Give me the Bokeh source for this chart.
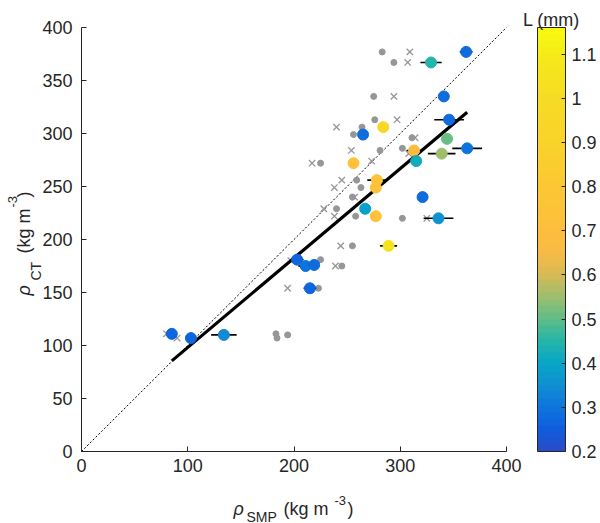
import numpy as np
from bokeh.plotting import figure
from bokeh.models import (ColumnDataSource, LinearColorMapper, ColorBar,
                          FixedTicker, Label, Range1d)
from bokeh.transform import transform
from bokeh.embed import file_html
from bokeh.resources import INLINE

# ---------------- data ----------------
rho_smp = [362, 329, 341, 346, 344, 363, 339, 313, 315, 284, 265, 256, 278,
           277, 321, 267, 277, 336, 289, 203, 211, 219, 215, 85, 103, 134]
rho_ct = [377, 367, 335, 313, 295, 286, 281, 284, 274, 306, 299, 272, 256,
          249, 240, 229, 222, 220, 194, 181, 175, 176, 154, 111, 107, 110]
rho_smp_err = [6, 10, 0, 14, 5, 14, 13, 7, 3, 4, 0, 0, 9,
               0, 0, 4, 0, 14, 8, 6, 7, 0, 6, 0, 0, 12]
grain_L = [0.28, 0.45, 0.28, 0.29, 0.50, 0.30, 0.55, 0.68, 0.42, 0.95, 0.28,
           0.75, 0.75, 0.75, 0.28, 0.38, 0.75, 0.36, 1.05, 0.26, 0.30, 0.29,
           0.26, 0.27, 0.27, 0.34]

alt_dot_smp = [283, 294, 275, 276, 264, 256, 311, 302, 281, 225, 259, 263,
               255, 240, 258, 302, 255, 225, 245, 223, 183, 184, 194]
alt_dot_ct = [377, 367, 335, 313, 306, 299, 296, 286, 284, 272, 256, 249,
              240, 229, 222, 220, 194, 181, 175, 154, 111, 107, 110]

alt_x_smp = [309, 307, 294, 297, 240, 314, 308, 254, 273, 217, 245, 238,
             257, 228, 238, 325, 244, 197, 239, 194, 80, 90]
alt_x_ct = [377, 367, 335, 313, 306, 296, 281, 284, 274, 272, 256, 249,
            240, 229, 222, 220, 194, 180, 175, 154, 111, 107]

fit_slope = 0.8435
fit_intercept = 13.8

x_ticks = [0, 100, 200, 300, 400]
y_ticks = [0, 50, 100, 150, 200, 250, 300, 350, 400]
axis_limits = [0, 400]
L_low, L_high = 0.2, 1.16
cbar_ticks = [0.2, 0.3, 0.4, 0.5, 0.6, 0.7, 0.8, 0.9, 1.0, 1.1]
cbar_labels = ["0.2", "0.3", "0.4", "0.5", "0.6", "0.7", "0.8", "0.9", "1", "1.1"]

cmap_L = [0.2, 0.25, 0.3, 0.35, 0.4, 0.45, 0.5, 0.55, 0.6, 0.65, 0.7, 0.8,
          0.9, 1.0, 1.1, 1.16]
cmap_rgb = [(44, 74, 199), (15, 92, 221), (13, 117, 220), (16, 142, 210),
            (7, 166, 199), (37, 181, 169), (95, 189, 135), (155, 190, 110),
            (215, 186, 86), (247, 187, 68), (253, 190, 61), (252, 199, 51),
            (249, 211, 42), (246, 219, 36), (245, 235, 24), (249, 251, 14)]

# ---------------- palette ----------------
n_col = 64
steps = L_low + (np.arange(n_col) + 0.5) * (L_high - L_low) / n_col
rgb = np.array(cmap_rgb, dtype=float)
palette = []
for s in steps:
    r = np.interp(s, cmap_L, rgb[:, 0])
    g = np.interp(s, cmap_L, rgb[:, 1])
    b = np.interp(s, cmap_L, rgb[:, 2])
    palette.append("#%02x%02x%02x" % (int(round(r)), int(round(g)), int(round(b))))
mapper = LinearColorMapper(palette=palette, low=L_low, high=L_high)

# ---------------- layout constants (canvas pixels) ----------------
FONT = "Liberation Sans"
AX = "#262626"
W, H = 600, 523
AREA_L, AREA_T, AREA_W, AREA_H = 81, 27, 425, 424   # where 0..400 x 0..400 sits
AREA_B = AREA_T + AREA_H
span = axis_limits[1] - axis_limits[0]


def dx(px_):
    return axis_limits[0] + (px_ - AREA_L) * span / AREA_W


def dy(py_):
    return axis_limits[0] + (AREA_B - py_) * span / AREA_H


# the frame covers the whole canvas; the axes sit at x=0 / y=0
p = figure(width=W, height=H,
           x_range=Range1d(dx(0), dx(W)), y_range=Range1d(dy(H), dy(0)),
           output_backend="svg", toolbar_location=None,
           min_border=0, min_border_left=0, min_border_right=0,
           min_border_top=0, min_border_bottom=0)
p.outline_line_color = None
p.grid.visible = False
p.background_fill_color = "white"
p.border_fill_color = "white"

for ax, ticks in ((p.xaxis, x_ticks), (p.yaxis, y_ticks)):
    ax.fixed_location = 0
    ax.bounds = tuple(axis_limits)
    ax.ticker = FixedTicker(ticks=ticks)
    ax.axis_line_color = AX
    ax.axis_line_width = 1
    ax.major_tick_line_color = AX
    ax.major_tick_in = 5
    ax.major_tick_out = 0
    ax.minor_tick_line_color = None
    ax.major_label_text_font = FONT
    ax.major_label_text_font_size = "18px"
    ax.major_label_text_color = AX
p.xaxis.major_label_standoff = 7
p.yaxis.major_label_standoff = 9

# 1:1 line
p.line(axis_limits, axis_limits, line_color="black", line_width=1, line_dash="2 2")

# grey alternative estimates
p.scatter(alt_dot_smp, alt_dot_ct, marker="circle", size=6,
          fill_color="#969696", line_color="#969696")
p.scatter(alt_x_smp, alt_x_ct, marker="x", size=9,
          line_color="#969696", line_width=1.3)

# fit line
fx = np.array([min(rho_smp), max(rho_smp)], dtype=float)
p.line(fx, fit_intercept + fit_slope * fx, line_color="black", line_width=3.2)

# error bars + coloured points
src = ColumnDataSource(dict(
    x=rho_smp, y=rho_ct, L=grain_L,
    x0=[a - e for a, e in zip(rho_smp, rho_smp_err)],
    x1=[a + e for a, e in zip(rho_smp, rho_smp_err)]))
p.segment(x0="x0", x1="x1", y0="y", y1="y", source=src,
          line_color="black", line_width=1.6)
p.scatter("x", "y", source=src, marker="circle", size=11,
          fill_color=transform("L", mapper), line_color=transform("L", mapper))

# colour bar (screen position inside the full-canvas frame)
cb = ColorBar(color_mapper=mapper, ticker=FixedTicker(ticks=cbar_ticks),
              major_label_overrides={t: l for t, l in zip(cbar_ticks, cbar_labels)},
              width=28, height=AREA_H, padding=0, margin=0,
              location=(537, H - AREA_B),
              label_standoff=6, major_tick_in=4, major_tick_out=0,
              major_tick_line_color=AX, bar_line_color=AX,
              minor_tick_line_color=None,
              major_label_text_font=FONT, major_label_text_font_size="18px",
              major_label_text_color=AX,
              background_fill_color=None, border_line_color=None)
p.add_layout(cb, "center")


def lab(text, px_, py_, size, angle=0.0, style="normal", align="left", base="alphabetic"):
    p.add_layout(Label(x=dx(px_), y=dy(py_), text=text, angle=angle,
                       text_font=FONT, text_font_size="%dpx" % size,
                       text_font_style=style, text_color=AX,
                       text_align=align, text_baseline=base))


# x axis label: rho_SMP (kg m^-3)
lab("\u03c1", 233, 508, 18, style="italic")
lab("SMP", 246, 516, 14)
lab("(kg m", 283, 508, 18)
lab("-3", 334, 500, 13)
lab(")", 347, 508, 18)

# y axis label: rho_CT (kg m^-3), rotated
A = np.pi / 2
lab("\u03c1", 23, 295, 18, angle=A, style="italic")
lab("CT", 35, 280, 14, angle=A)
lab("(kg m", 23, 253, 18, angle=A)
lab("-3", 12, 207, 13, angle=A)
lab(")", 23, 197, 18, angle=A)

# colour bar title
lab("L (mm)", 551, 19, 18, align="center")

open("out.html", "w").write(file_html(p, INLINE))
